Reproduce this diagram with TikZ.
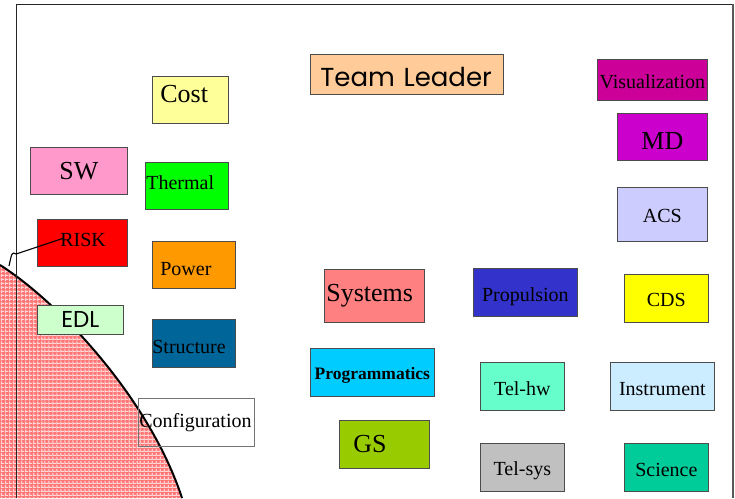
\documentclass[tikz,border=0pt]{standalone}
\usepackage{fontspec}
\setmainfont{Liberation Serif}
\newfontfamily\comicfont{Poppins}
\usetikzlibrary{patterns.meta}

\definecolor{costc}{RGB}{255,255,153}
\definecolor{swc}{RGB}{255,153,204}
\definecolor{thermalc}{RGB}{0,255,0}
\definecolor{riskc}{RGB}{255,0,0}
\definecolor{powerc}{RGB}{255,153,0}
\definecolor{edlc}{RGB}{204,255,204}
\definecolor{structc}{RGB}{0,102,153}
\definecolor{teamc}{RGB}{255,204,153}
\definecolor{visc}{RGB}{204,0,153}
\definecolor{mdc}{RGB}{204,0,204}
\definecolor{acsc}{RGB}{204,204,255}
\definecolor{sysc}{RGB}{255,128,128}
\definecolor{propc}{RGB}{51,51,204}
\definecolor{progc}{RGB}{0,204,255}
\definecolor{gsc}{RGB}{153,204,0}
\definecolor{telhwc}{RGB}{102,255,204}
\definecolor{telsysc}{RGB}{192,192,192}
\definecolor{cdsc}{RGB}{255,255,0}
\definecolor{instc}{RGB}{204,236,255}
\definecolor{scic}{RGB}{0,204,153}
\definecolor{zonebase}{RGB}{255,115,115}
\definecolor{zonegrid}{RGB}{255,215,215}

\newcommand\bigtxt{\fontsize{26}{28}\selectfont}
\newcommand\midtxt{\fontsize{20}{22}\selectfont}
% shift a label up (positive) or down (negative) without changing the box layout
\newcommand\lift[2]{\raisebox{#1}[\height][\depth]{#2}}

\tikzset{
  box/.style={draw=black!70, line width=0.7pt, anchor=north west, inner sep=0pt,
    text width=#1, minimum height=48pt, align=center, font=\midtxt},
  lbox/.style={box=#1, align=left},
  zoneline/.style={line width=2pt, black},
  frameline/.style={line width=0.8pt, black!85},
}

\begin{document}
\begin{tikzpicture}[x=1pt, y=-1pt]
\useasboundingbox (0,0) rectangle (735,498);

% shaded zone in the lower left corner
\coordinate (ztop) at (0,265);
\coordinate (zbot) at (182,498);
\fill[zonebase] (ztop) .. controls (60,303) and (150,400) .. (zbot) -- (0,498) -- cycle;
\fill[pattern={Lines[angle=0,distance=4pt,line width=1.3pt]}, pattern color=zonegrid]
  (ztop) .. controls (60,303) and (150,400) .. (zbot) -- (0,498) -- cycle;
\fill[pattern={Lines[angle=90,distance=4pt,line width=1.3pt]}, pattern color=zonegrid]
  (ztop) .. controls (60,303) and (150,400) .. (zbot) -- (0,498) -- cycle;
\draw[zoneline] (ztop) .. controls (60,303) and (150,400) .. (zbot);

% frame
\coordinate (fbl) at (16,498);
\coordinate (ftl) at (16,4);
\coordinate (ftr) at (733,4);
\coordinate (fbr) at (733,498);
\draw[frameline] (fbl) -- (ftl) -- (ftr);
\draw[frameline, black!65, line width=1.4pt] (ftr) -- (fbr);

% left column
\node[lbox=76pt, fill=costc, minimum height=47pt, font=\bigtxt] (cost) at (152,76) {\hspace*{8pt}\lift{6pt}{Cost}};
\node[box=97pt, fill=swc, minimum height=47pt, font=\bigtxt] (sw) at (30,147) {SW};
\node[lbox=83pt, fill=thermalc, minimum height=47pt] (thermal) at (145,162) {\hspace*{1pt}\lift{3pt}{Thermal}};
\node[lbox=90pt, fill=riskc, minimum height=47pt] (risk) at (37,219) {\hspace*{23pt}\lift{3pt}{RISK}};
\node[lbox=83pt, fill=powerc, minimum height=47pt] (power) at (152,241) {\hspace*{8pt}\lift{-4pt}{Power}};
\node[box=86pt, fill=edlc, minimum height=29pt, font=\comicfont\fontsize{23}{24}\selectfont] (edl) at (37,305) {EDL};
\node[lbox=83pt, fill=structc] (structure) at (152,319) {\lift{-4pt}{Structure}};
\node[lbox=116pt, draw=black!55] (config) at (138,398) {\hspace*{1pt}Configuration};

% middle column
\node[lbox=193pt, fill=teamc, minimum height=40pt, font=\comicfont\fontsize{26}{28}\selectfont] (team) at (310,54) {\hspace*{10pt}\lift{-3pt}{Team Leader}};
\node[lbox=100pt, fill=sysc, minimum height=53pt, font=\bigtxt] (systems) at (324,269) {\hspace*{2pt}Systems};
\node[box=104pt, fill=propc] (propulsion) at (473,268) {\lift{-4pt}{Propulsion}};
\node[box=124pt, fill=progc, font=\fontsize{17.5}{19}\selectfont\bfseries] (prog) at (310,348) {\lift{-3pt}{Programmatics}};
\node[lbox=90pt, fill=gsc, font=\bigtxt] (gs) at (339,420) {\hspace*{14pt}GS};
\node[box=84pt, fill=telhwc] (telhw) at (480,362) {\lift{-2.5pt}{Tel-hw}};
\node[box=84pt, fill=telsysc] (telsys) at (480,443) {\lift{-3.5pt}{Tel-sys}};

% right column
\node[box=110pt, fill=visc, minimum height=41pt] (vis) at (597,59) {\lift{-2pt}{Visualization}};
\node[box=90pt, fill=mdc, minimum height=47pt, font=\bigtxt] (md) at (617,113) {\lift{-4pt}{MD}};
\node[box=90pt, fill=acsc, minimum height=54pt] (acs) at (617,187) {\lift{-2pt}{ACS}};
\node[box=84pt, fill=cdsc] (cds) at (624,274) {\lift{-2pt}{CDS}};
\node[box=104pt, fill=instc] (instrument) at (610,362) {\lift{-2.5pt}{Instrument}};
\node[box=84pt, fill=scic] (science) at (624,443) {\lift{-3pt}{Science}};

% pointer from RISK to the zone
\coordinate (riskend) at (64,238);
\coordinate (hook) at (16,254);
\coordinate (hookend) at (9,266);
\draw[line width=1.1pt] (riskend) -- (hook) .. controls (12,252) .. (hookend);
\end{tikzpicture}
\end{document}
